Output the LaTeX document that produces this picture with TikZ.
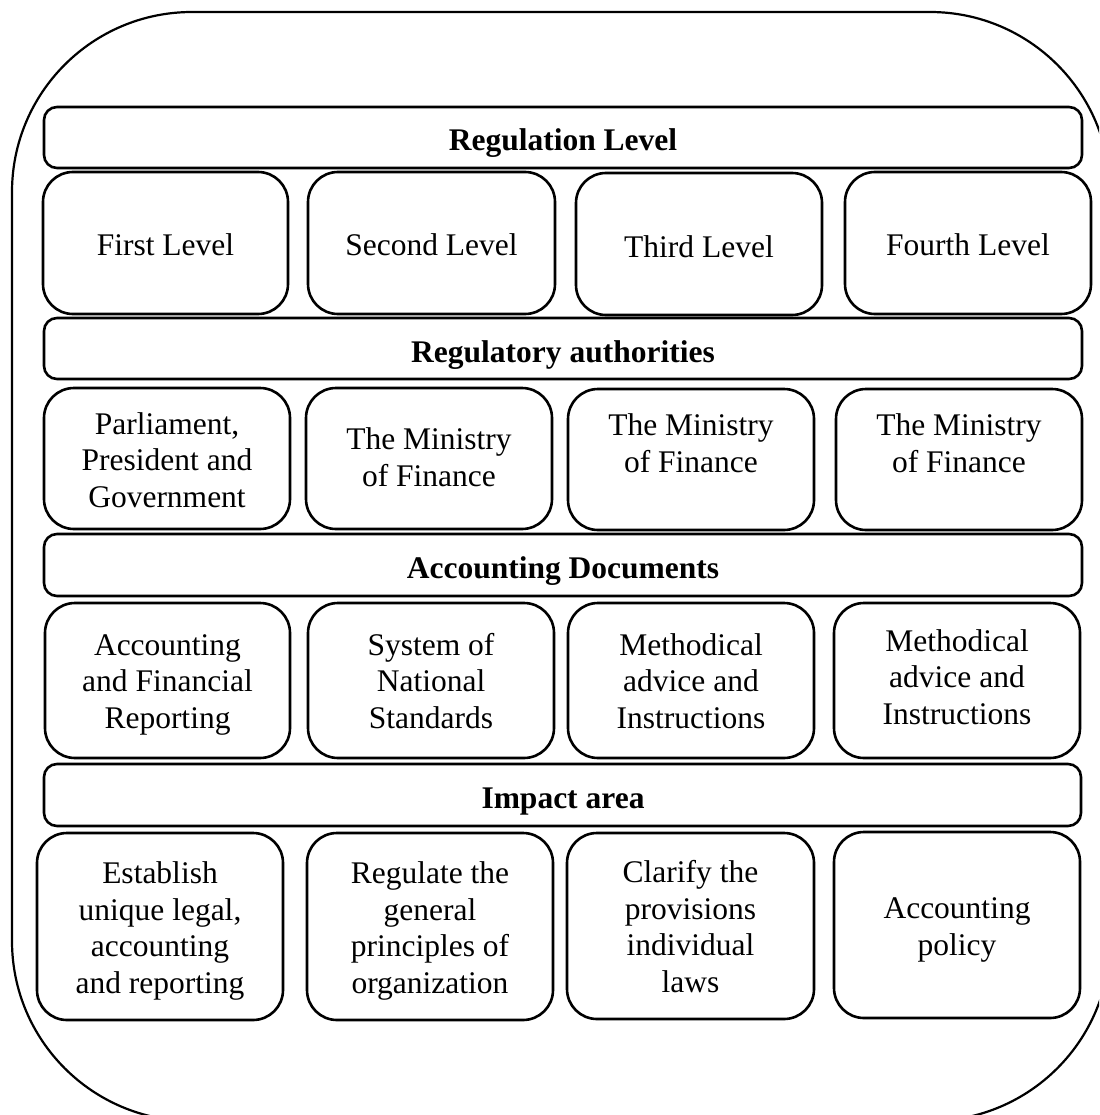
\documentclass[tikz,border=0pt]{standalone}
\usepackage{fontspec}
\setmainfont{Liberation Serif}
\newcommand\cellnode[6]{\node[#6, minimum width={(#4-#2)*1pt}, minimum height={(#5-#3)*1pt}] (#1) at ({(#2+#4)/2},{(#3+#5)/2}) {};}
\begin{document}
\begin{tikzpicture}[x=1pt,y=-1pt,
  cellbox/.style={draw, line width=2.6pt, rounded corners=30pt, inner sep=0pt, outer sep=0pt},
  barbox/.style={draw, line width=2.6pt, rounded corners=13pt, inner sep=0pt, outer sep=0pt},
  celltxt/.style={anchor=base, align=center, inner sep=0pt, font=\fontsize{31.5}{36.5}\selectfont},
  bartxt/.style={anchor=base, align=center, inner sep=0pt, font=\fontsize{31.5}{36.5}\selectfont\bfseries}]
\useasboundingbox (0,0) rectangle (1099,1115);
\begin{scope}
\clip (0,0) rectangle (1099,1115);
\draw[line width=2.2pt, rounded corners=180pt] (12,12) rectangle (1110,1121);
\end{scope}
% bars
\cellnode{bar1}{44}{107}{1082}{168}{barbox}
\cellnode{bar2}{44}{318}{1082}{379}{barbox}
\cellnode{bar3}{44}{534}{1082}{596}{barbox}
\cellnode{bar4}{44}{764}{1081}{826}{barbox}
\node[bartxt] (tb1) at (563,151) {Regulation Level};
\node[bartxt] (tb2) at (563,362) {Regulatory authorities};
\node[bartxt] (tb3) at (563,578) {Accounting Documents};
\node[bartxt] (tb4) at (563,808) {Impact area};
% row 1
\cellnode{c11}{43}{172}{288}{314}{cellbox}
\cellnode{c12}{308}{172}{555}{314}{cellbox}
\cellnode{c13}{576}{173}{822}{315}{cellbox}
\cellnode{c14}{845}{172}{1091}{314}{cellbox}
\node[celltxt] (t11) at (165.5,255) {First Level};
\node[celltxt] (t12) at (431.5,255) {Second Level};
\node[celltxt] (t13) at (699,257) {Third Level};
\node[celltxt] (t14) at (968,255) {Fourth Level};
% row 2 (anchor base = last line)
\cellnode{c21}{44}{388}{290}{529}{cellbox}
\cellnode{c22}{306}{388}{552}{529}{cellbox}
\cellnode{c23}{568}{389}{814}{530}{cellbox}
\cellnode{c24}{836}{389}{1082}{530}{cellbox}
\node[celltxt] (t21) at (167,507) {Parliament,\\President and\\Government};
\node[celltxt] (t22) at (429,486) {The Ministry\\of Finance};
\node[celltxt] (t23) at (691,472) {The Ministry\\of Finance};
\node[celltxt] (t24) at (959,472) {The Ministry\\of Finance};
% row 3
\cellnode{c31}{45}{603}{290}{758}{cellbox}
\cellnode{c32}{308}{603}{554}{758}{cellbox}
\cellnode{c33}{568}{603}{814}{758}{cellbox}
\cellnode{c34}{834}{603}{1080}{758}{cellbox}
\node[celltxt] (t31) at (167.5,728) {Accounting\\and Financial\\Reporting};
\node[celltxt] (t32) at (431,728) {System of\\National\\Standards};
\node[celltxt] (t33) at (691,728) {Methodical\\advice and\\Instructions};
\node[celltxt] (t34) at (957,724) {Methodical\\advice and\\Instructions};
% row 4
\cellnode{c41}{37}{833}{283}{1020}{cellbox}
\cellnode{c42}{307}{833}{553}{1020}{cellbox}
\cellnode{c43}{567}{833}{814}{1019}{cellbox}
\cellnode{c44}{834}{832}{1080}{1018}{cellbox}
\node[celltxt] (t41) at (160,993) {Establish\\unique legal,\\accounting\\and reporting};
\node[celltxt] (t42) at (430,993) {Regulate the\\general\\principles of\\organization};
\node[celltxt] (t43) at (690.5,992) {Clarify the\\provisions\\individual\\laws};
\node[celltxt] (t44) at (957,955) {Accounting\\policy};
\end{tikzpicture}
\end{document}
